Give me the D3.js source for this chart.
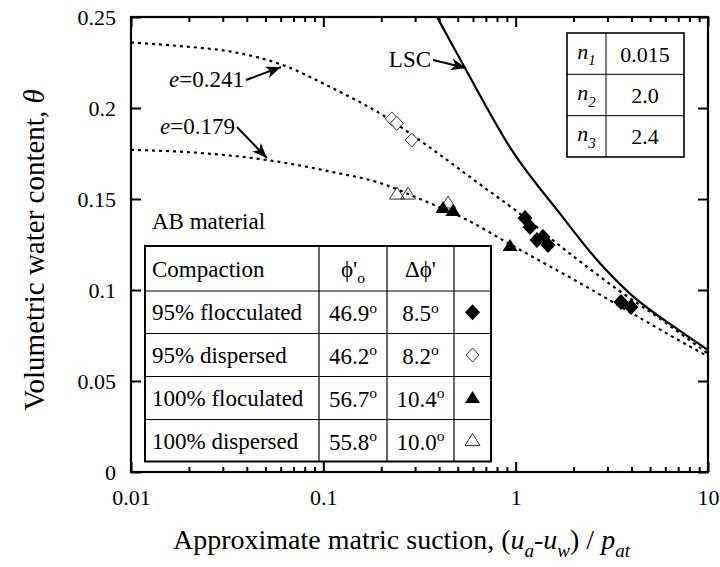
<!DOCTYPE html>
<html><head><meta charset="utf-8">
<script src="https://cdn.jsdelivr.net/npm/d3@7"></script>
<style>
body{margin:0;background:#fff}
svg{display:block}
text{font-family:"Liberation Serif","Times New Roman",Times,serif;fill:#000}
</style>
</head><body>
<svg id="c" width="720" height="567"></svg>
<script>
// ---------- data ----------
const xTicks = [0.01, 0.1, 1, 10];
const xTickLabels = ["0.01", "0.1", "1", "10"];
const yTicks = [0, 0.05, 0.1, 0.15, 0.2, 0.25];
const yTickLabels = ["0", "0.05", "0.1", "0.15", "0.2", "0.25"];

// LSC (solid)
const lscX = [0.39, 0.545, 0.953, 1.70, 2.65, 3.93, 7.15, 10];
const lscY = [0.25, 0.222, 0.177, 0.142, 0.1165, 0.098, 0.0775, 0.067];
// e = 0.241 (dotted)
const e241X = [0.01, 0.018, 0.033, 0.060, 0.116, 0.197, 0.372, 0.653, 1.05, 1.76, 3.21, 5.84, 10];
const e241Y = [0.236, 0.234, 0.231, 0.224, 0.210, 0.197, 0.177, 0.158, 0.142, 0.123, 0.102, 0.083, 0.065];
// e = 0.179 (dotted)
const e179X = [0.01, 0.0229, 0.0509, 0.112, 0.197, 0.318, 0.559, 0.969, 2.16, 4.82, 7.15, 10];
const e179Y = [0.177, 0.1753, 0.1714, 0.1648, 0.1588, 0.150, 0.1385, 0.1242, 0.1038, 0.0824, 0.072, 0.0635];

// measured points
const floc95X = [1.118, 1.187, 1.291, 1.387, 1.473, 3.53, 3.98];
const floc95Y = [0.1396, 0.1346, 0.1275, 0.1291, 0.1247, 0.0934, 0.0907];
const disp95X = [0.227, 0.241, 0.288];
const disp95Y = [0.194, 0.1916, 0.1824];
const floc100X = [0.419, 0.472, 0.935];
const floc100Y = [0.1451, 0.1434, 0.1242];
const disp100X = [0.2415, 0.2756, 0.445];
const disp100Y = [0.1527, 0.1527, 0.1478];

// legend table
const compaction = ["95% flocculated", "95% dispersed", "100% floculated", "100% dispersed"];
const phiO = ["46.9", "46.2", "56.7", "55.8"];
const dPhi = ["8.5", "8.2", "10.4", "10.0"];
const markerKinds = ["fdiamond", "odiamond", "ftriangle", "otriangle"];

// parameter table
const nIdx = ["1", "2", "3"];
const nVal = ["0.015", "2.0", "2.4"];

// ---------- layout ----------
const svg = d3.select("#c");
const L = 131, R = 708, T = 17, B = 472;
const x = d3.scaleLog().domain([0.01, 10]).range([L, R]);
const y = d3.scaleLinear().domain([0, 0.25]).range([B, T]);

function rich(sel, segs, fs) {
  let cur = 0;
  segs.forEach(s => {
    const target = s.sub ? fs * 0.3 : (s.sup ? -fs * 0.38 : 0);
    const ts = sel.append("tspan").text(s.t).attr("dy", target - cur);
    cur = target;
    if (s.sub || s.sup) ts.attr("font-size", fs * 0.68);
    if (s.i) ts.attr("font-style", "italic");
  });
}

const defs = svg.append("defs");
defs.append("clipPath").attr("id", "clip").append("rect")
  .attr("x", L).attr("y", T).attr("width", R - L).attr("height", B - T);
defs.append("marker").attr("id", "ah").attr("viewBox", "0 0 15 12")
  .attr("refX", 15).attr("refY", 6).attr("markerWidth", 15).attr("markerHeight", 12)
  .attr("markerUnits", "userSpaceOnUse").attr("orient", "auto")
  .append("path").attr("d", "M0,0 L15,6 L0,12 L4,6 Z").attr("fill", "#000");

// ---------- axes ----------
const minor = x.ticks().filter(v => !xTicks.some(t => Math.abs(t - v) / t < 1e-6));
const tickFS = 22;

function styleAxis(g) {
  g.select(".domain").remove();
  g.selectAll("line").attr("stroke", "#000").attr("stroke-width", 2);
  g.selectAll("text").attr("font-size", tickFS).attr("fill", "#000");
}

svg.append("g").attr("transform", `translate(0,${B})`)
  .call(d3.axisBottom(x).tickValues(xTicks).tickSize(-10).tickPadding(17).tickFormat((d, i) => xTickLabels[i]))
  .call(styleAxis);
svg.append("g").attr("transform", `translate(0,${B})`)
  .call(d3.axisBottom(x).tickValues(minor).tickSize(-5).tickFormat(""))
  .call(styleAxis);
svg.append("g").attr("transform", `translate(0,${T})`)
  .call(d3.axisTop(x).tickValues(xTicks).tickSize(-10).tickFormat(""))
  .call(styleAxis);
svg.append("g").attr("transform", `translate(0,${T})`)
  .call(d3.axisTop(x).tickValues(minor).tickSize(-5).tickFormat(""))
  .call(styleAxis);
svg.append("g").attr("transform", `translate(${L},0)`)
  .call(d3.axisLeft(y).tickValues(yTicks).tickSize(-10).tickPadding(15).tickFormat((d, i) => yTickLabels[i]))
  .call(styleAxis);
svg.append("g").attr("transform", `translate(${R},0)`)
  .call(d3.axisRight(y).tickValues(yTicks).tickSize(-10).tickFormat(""))
  .call(styleAxis);

svg.append("rect").attr("x", L).attr("y", T).attr("width", R - L).attr("height", B - T)
  .attr("fill", "none").attr("stroke", "#000").attr("stroke-width", 2.2);

// axis titles
const xt = svg.append("text").attr("x", 173).attr("y", 549).attr("font-size", 28);
rich(xt, [{t: "Approximate matric suction, ("}, {t: "u", i: 1}, {t: "a", i: 1, sub: 1}, {t: "-"},
  {t: "u", i: 1}, {t: "w", i: 1, sub: 1}, {t: ") / "}, {t: "p", i: 1}, {t: "at", i: 1, sub: 1}], 28);
const yt = svg.append("text").attr("transform", "translate(44,250) rotate(-90)")
  .attr("text-anchor", "middle").attr("font-size", 29);
rich(yt, [{t: "Volumetric water content, "}, {t: "θ", i: 1}], 29);

// ---------- curves ----------
const line = d3.line().x(d => x(d[0])).y(d => y(d[1])).curve(d3.curveMonotoneX);
const plot = svg.append("g").attr("clip-path", "url(#clip)");
plot.append("path").datum(d3.zip(lscX, lscY)).attr("d", line)
  .attr("fill", "none").attr("stroke", "#000").attr("stroke-width", 2.2);
plot.append("path").datum(d3.zip(e241X, e241Y)).attr("d", line)
  .attr("fill", "none").attr("stroke", "#000").attr("stroke-width", 2.2).attr("stroke-dasharray", "3,4");
plot.append("path").datum(d3.zip(e179X, e179Y)).attr("d", line)
  .attr("fill", "none").attr("stroke", "#000").attr("stroke-width", 2.2).attr("stroke-dasharray", "3,4");

// ---------- markers ----------
const shapes = {
  fdiamond: {d: "M0,-8 L7.5,0 L0,8 L-7.5,0 Z", fill: "#000", stroke: "none"},
  odiamond: {d: "M0,-7 L6.5,0 L0,7 L-6.5,0 Z", fill: "#fff", stroke: "#333"},
  ftriangle: {d: "M0,-7 L7.5,5 L-7.5,5 Z", fill: "#000", stroke: "none"},
  otriangle: {d: "M0,-7 L7.5,5 L-7.5,5 Z", fill: "none", stroke: "#333"}
};
function drawPts(xs, ys, kind) {
  const s = shapes[kind];
  svg.append("g").selectAll("path").data(d3.zip(xs, ys)).join("path")
    .attr("transform", d => `translate(${x(d[0])},${y(d[1])})`)
    .attr("d", s.d).attr("fill", s.fill).attr("stroke", s.stroke).attr("stroke-width", 1);
}
drawPts(disp95X, disp95Y, "odiamond");
drawPts(disp100X, disp100Y, "otriangle");
drawPts(floc100X, floc100Y, "ftriangle");
drawPts(floc95X, floc95Y, "fdiamond");

// ---------- annotations ----------
const annFS = 23;
const anns = [
  {tip: [0.552, 0.222], dx: -33, dy: -8, label: [{t: "LSC"}]},
  {tip: [0.0602, 0.2225], dx: -35, dy: 13, label: [{t: "e", i: 1}, {t: "=0.241"}]},
  {tip: [0.0509, 0.1725], dx: -30, dy: -31, label: [{t: "e", i: 1}, {t: "=0.179"}]}
];
anns.forEach(a => {
  const tx = x(a.tip[0]), ty = y(a.tip[1]);
  const sx = tx + a.dx, sy = ty + a.dy;
  svg.append("line").attr("x1", sx).attr("y1", sy).attr("x2", tx).attr("y2", ty)
    .attr("stroke", "#000").attr("stroke-width", 2).attr("marker-end", "url(#ah)");
  const t = svg.append("text").attr("x", sx - 2).attr("y", sy + 7).attr("text-anchor", "end").attr("font-size", annFS);
  rich(t, a.label, annFS);
});

// ---------- parameter table ----------
const pt = {x0: 567, x1: 606, x2: 684, y0: 33, y1: 157};
const pg = svg.append("g");
pg.append("rect").attr("x", pt.x0).attr("y", pt.y0).attr("width", pt.x2 - pt.x0).attr("height", pt.y1 - pt.y0)
  .attr("fill", "#fff").attr("stroke", "#000").attr("stroke-width", 1.6);
pg.append("line").attr("x1", pt.x1).attr("x2", pt.x1).attr("y1", pt.y0).attr("y2", pt.y1).attr("stroke", "#000").attr("stroke-width", 1);
const ph = (pt.y1 - pt.y0) / nIdx.length;
const pfs = 22;
nIdx.forEach((n, i) => {
  if (i > 0) pg.append("line").attr("x1", pt.x0).attr("x2", pt.x2).attr("y1", pt.y0 + ph * i).attr("y2", pt.y0 + ph * i)
    .attr("stroke", "#000").attr("stroke-width", 1);
  const cy = pt.y0 + ph * (i + 0.5);
  const t1 = pg.append("text").attr("x", (pt.x0 + pt.x1) / 2).attr("y", cy + 5).attr("text-anchor", "middle").attr("font-size", pfs);
  rich(t1, [{t: "n", i: 1}, {t: n, i: 1, sub: 1}], pfs);
  pg.append("text").attr("x", (pt.x1 + pt.x2) / 2).attr("y", cy + 8).attr("text-anchor", "middle").attr("font-size", pfs).text(nVal[i]);
});

// ---------- legend table ----------
const lg = svg.append("g");
const lfs = 23;
lg.append("text").attr("x", 152).attr("y", 229).attr("font-size", lfs).text("AB material");
const cols = [145, 319, 387, 454, 491];
const rows = [246, 291, 333.5, 376.5, 419.5, 461.5];
lg.append("rect").attr("x", cols[0]).attr("y", rows[0]).attr("width", cols[4] - cols[0]).attr("height", rows[5] - rows[0])
  .attr("fill", "#fff").attr("stroke", "#000").attr("stroke-width", 2);
cols.slice(1, 4).forEach(c => lg.append("line").attr("x1", c).attr("x2", c).attr("y1", rows[0]).attr("y2", rows[5])
  .attr("stroke", "#000").attr("stroke-width", 1.2));
rows.slice(1, 5).forEach(r => lg.append("line").attr("x1", cols[0]).attr("x2", cols[4]).attr("y1", r).attr("y2", r)
  .attr("stroke", "#000").attr("stroke-width", 1.2));
const hy = (rows[0] + rows[1]) / 2 + 8;
lg.append("text").attr("x", 152).attr("y", hy).attr("font-size", lfs).text("Compaction");
const h2 = lg.append("text").attr("x", (cols[1] + cols[2]) / 2).attr("y", hy).attr("text-anchor", "middle").attr("font-size", lfs);
rich(h2, [{t: "ϕ'"}, {t: "o", sub: 1}], lfs);
lg.append("text").attr("x", (cols[2] + cols[3]) / 2).attr("y", hy).attr("text-anchor", "middle").attr("font-size", lfs).text("Δϕ'");
compaction.forEach((c, i) => {
  const cy = (rows[i + 1] + rows[i + 2]) / 2;
  lg.append("text").attr("x", 152).attr("y", cy + 8).attr("font-size", lfs).text(c);
  const a = lg.append("text").attr("x", (cols[1] + cols[2]) / 2).attr("y", cy + 9).attr("text-anchor", "middle").attr("font-size", lfs);
  rich(a, [{t: phiO[i]}, {t: "o", sup: 1}], lfs);
  const b = lg.append("text").attr("x", (cols[2] + cols[3]) / 2).attr("y", cy + 9).attr("text-anchor", "middle").attr("font-size", lfs);
  rich(b, [{t: dPhi[i]}, {t: "o", sup: 1}], lfs);
  const s = shapes[markerKinds[i]];
  lg.append("path").attr("transform", `translate(${(cols[3] + cols[4]) / 2},${cy})`)
    .attr("d", s.d).attr("fill", s.fill).attr("stroke", s.stroke).attr("stroke-width", 1);
});
</script>
</body></html>
